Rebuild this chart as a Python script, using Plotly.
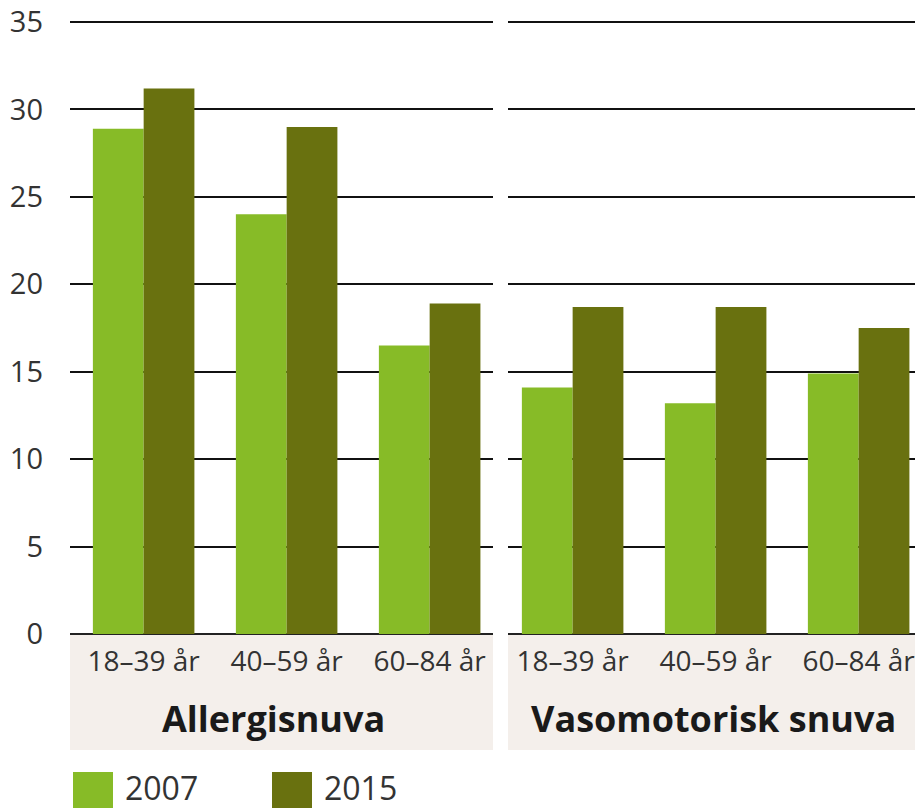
import plotly.graph_objects as go

age_groups = ["18–39 år", "40–59 år", "60–84 år"]
panels = ["Allergisnuva", "Vasomotorisk snuva"]
years = ["2007", "2015"]
allergi_2007 = [28.9, 24.0, 16.5]
allergi_2015 = [31.2, 29.0, 18.9]
vaso_2007 = [14.1, 13.2, 14.9]
vaso_2015 = [18.7, 18.7, 17.5]
y_ticks = [0, 5, 10, 15, 20, 25, 30, 35]

colors = {"2007": "#87bb27", "2015": "#69710f"}
FONT = "Open Sans, sans-serif"
TXT = "#333333"

# page body has an 8px margin; figure sized to fill the window
OFF = 8
W, H = 923 - OFF, 808 - OFF
L, R, T, B = 70 - OFF, 0, 9, 808 - 634
PW, PH = W - L - R, H - T - B
SCALE = (634 - 22) / 35.0
YTOP = PH / SCALE

def px_x(xw):
    return (xw - OFF - L) / PW

def px_y(yw):
    return ((H - B) - (yw - OFF)) / PH

fig = go.Figure()
data = {
    ("x", "y"): (allergi_2007, allergi_2015),
    ("x2", "y2"): (vaso_2007, vaso_2015),
}
for (xa, ya), (v07, v15) in data.items():
    for yr, vals in zip(years, (v07, v15)):
        fig.add_trace(go.Bar(x=age_groups, y=vals, name=yr, xaxis=xa, yaxis=ya,
                             marker=dict(color=colors[yr], line=dict(width=0)),
                             showlegend=False))

axis_common = dict(type="category", showgrid=False, zeroline=False, showline=False,
                   ticks="", tickfont=dict(family=FONT, size=28, color=TXT),
                   ticklabelstandoff=8)
yaxis_common = dict(range=[0, YTOP], tickvals=y_ticks, showgrid=True, gridcolor="#111111",
                    gridwidth=2, zeroline=True, zerolinecolor="#222222", zerolinewidth=2,
                    showline=False, ticks="")
fig.update_layout(
    width=W, height=H,
    margin=dict(l=L, r=R, t=T, b=B, autoexpand=False),
    paper_bgcolor="white", plot_bgcolor="white",
    barmode="group", bargap=0.29, bargroupgap=0,
    showlegend=False,
    xaxis=dict(domain=[0, px_x(493)], range=[-0.515, 2.443], anchor="y", **axis_common),
    xaxis2=dict(domain=[px_x(508), 1], range=[-0.452, 2.45], anchor="y2", **axis_common),
    yaxis=dict(tickfont=dict(family=FONT, size=29, color=TXT), ticklabelstandoff=26,
               ticklabeloverflow="allow", anchor="x", **yaxis_common),
    yaxis2=dict(showticklabels=False, anchor="x2", matches="y", **yaxis_common),
)

shapes = []
annotations = []
title_x = [0.482, 0.495]
for xa, title, tx in zip(["x", "x2"], panels, title_x):
    shapes.append(dict(type="rect", xref=f"{xa} domain", yref="paper", x0=0, x1=1,
                       y0=px_y(635), y1=px_y(750), fillcolor="#f4efeb", line=dict(width=0),
                       layer="below"))
    annotations.append(dict(text=f"<b>{title}</b>", xref=f"{xa} domain", yref="paper",
                            x=tx, y=px_y(718), xanchor="center", yanchor="middle",
                            showarrow=False, font=dict(family=FONT, size=36, color="#1a1a1a")))

leg_x = [73, 272]
for x0, yr in zip(leg_x, years):
    shapes.append(dict(type="rect", xref="paper", yref="paper", x0=px_x(x0), x1=px_x(x0 + 40),
                       y0=px_y(772), y1=px_y(815), fillcolor=colors[yr], line=dict(width=0)))
    annotations.append(dict(text=yr, xref="paper", yref="paper", x=px_x(x0 + 50), y=px_y(787),
                            xanchor="left", yanchor="middle", showarrow=False,
                            font=dict(family=FONT, size=32, color=TXT)))

fig.update_layout(shapes=shapes, annotations=annotations)
fig.write_html("out.html")
